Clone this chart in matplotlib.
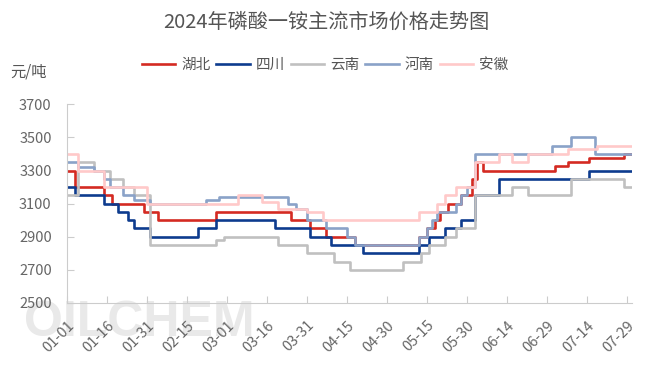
import matplotlib
matplotlib.use('Agg')
import matplotlib.pyplot as plt
import matplotlib.dates as mdates
import pandas as pd

plt.rcParams['font.family'] = ['Noto Sans CJK SC', 'DejaVu Sans']

# 价格变动点 (日期, 元/吨)
hubei_dates = ['2024-01-01', '2024-01-04', '2024-01-15', '2024-01-18', '2024-01-30', '2024-02-04',
               '2024-02-26', '2024-03-25', '2024-04-01', '2024-04-07', '2024-04-18', '2024-05-12',
               '2024-05-15', '2024-05-18', '2024-05-20', '2024-05-23', '2024-05-28', '2024-06-01',
               '2024-06-03', '2024-06-05', '2024-07-02', '2024-07-07', '2024-07-15', '2024-07-28',
               '2024-07-31']
hubei_vals = [3300, 3200, 3150, 3100, 3050, 3000,
              3050, 3000, 2950, 2900, 2850, 2900,
              2950, 3000, 3050, 3100, 3150, 3250,
              3350, 3300, 3330, 3350, 3375, 3400,
              3400]

sichuan_dates = ['2024-01-01', '2024-01-04', '2024-01-15', '2024-01-20', '2024-01-24', '2024-01-26',
                 '2024-02-01', '2024-02-19', '2024-02-26', '2024-03-19', '2024-04-01', '2024-04-09',
                 '2024-04-21', '2024-05-12', '2024-05-16', '2024-05-22', '2024-05-28', '2024-06-02',
                 '2024-06-11', '2024-07-15', '2024-07-31']
sichuan_vals = [3200, 3150, 3100, 3050, 3000, 2950,
                2900, 2950, 3000, 2950, 2900, 2850,
                2800, 2850, 2900, 2950, 3000, 3150,
                3250, 3300, 3300]

yunnan_dates = ['2024-01-01', '2024-01-05', '2024-01-11', '2024-01-17', '2024-01-22', '2024-01-26',
                '2024-02-01', '2024-02-26', '2024-02-29', '2024-03-20', '2024-03-31', '2024-04-10',
                '2024-04-16', '2024-05-06', '2024-05-13', '2024-05-16', '2024-05-22', '2024-05-26',
                '2024-06-02', '2024-06-16', '2024-06-22', '2024-07-08', '2024-07-28', '2024-07-31']
yunnan_vals = [3150, 3350, 3300, 3250, 3200, 3150,
               2850, 2880, 2900, 2850, 2800, 2750,
               2700, 2750, 2800, 2850, 2900, 2950,
               3150, 3200, 3150, 3250, 3200, 3200]

henan_dates = ['2024-01-01', '2024-01-05', '2024-01-11', '2024-01-15', '2024-01-17', '2024-01-22',
               '2024-01-26', '2024-02-01', '2024-02-22', '2024-02-27', '2024-03-24', '2024-03-27',
               '2024-03-31', '2024-04-07', '2024-04-15', '2024-04-18', '2024-05-12', '2024-05-15',
               '2024-05-17', '2024-05-19', '2024-05-26', '2024-05-28', '2024-05-30', '2024-06-02',
               '2024-07-01', '2024-07-08', '2024-07-17', '2024-07-31']
henan_vals = [3350, 3320, 3300, 3250, 3200, 3150,
              3125, 3100, 3120, 3140, 3100, 3070,
              3000, 2950, 2900, 2850, 2900, 2950,
              3000, 3050, 3100, 3150, 3200, 3400,
              3450, 3500, 3400, 3400]

anhui_dates = ['2024-01-01', '2024-01-05', '2024-01-15', '2024-01-31', '2024-03-05', '2024-03-14',
               '2024-03-20', '2024-03-31', '2024-04-06', '2024-05-12', '2024-05-19', '2024-05-22',
               '2024-05-26', '2024-06-02', '2024-06-11', '2024-06-16', '2024-06-22', '2024-07-07',
               '2024-07-18', '2024-07-31']
anhui_vals = [3400, 3300, 3200, 3100, 3150, 3110,
              3065, 3050, 3000, 3050, 3100, 3150,
              3200, 3350, 3400, 3350, 3400, 3430,
              3450, 3450]

series = [
    ('湖北', hubei_dates, hubei_vals, '#d42a22'),
    ('四川', sichuan_dates, sichuan_vals, '#0d3b8e'),
    ('云南', yunnan_dates, yunnan_vals, '#c0c0c0'),
    ('河南', henan_dates, henan_vals, '#8aa2c8'),
    ('安徽', anhui_dates, anhui_vals, '#ffc9c9'),
]

W, H = 652, 369
fig = plt.figure(figsize=(W / 100, H / 100), dpi=100)
ax = fig.add_axes([67 / W, 1 - 303 / H, (632 - 67) / W, (303 - 104.3) / H])

# 水印 (画在最底层)
fig.text(24 / W, 1 - 300 / H, 'OILCHEM', fontsize=36, fontweight='bold',
         family='Liberation Sans', color='#e9e9e9', va='top', ha='left', zorder=-1)

for name, d, v, c in series:
    ax.step(pd.to_datetime(d), v, where='post', color=c, lw=1.9, label=name)

ax.set_xlim(pd.Timestamp('2024-01-01'), pd.Timestamp('2024-07-31'))
ax.set_ylim(2500, 3700)
ax.set_yticks(range(2500, 3701, 200))
ax.set_xticks(pd.date_range('2024-01-01', '2024-07-31', freq='15D'))
ax.xaxis.set_major_formatter(mdates.DateFormatter('%m-%d'))

for s in ['top', 'right']:
    ax.spines[s].set_visible(False)
for s in ['left', 'bottom']:
    ax.spines[s].set_color('#cccccc')
ax.patch.set_alpha(0)
ax.tick_params(direction='in', length=5, color='#cccccc', labelcolor='#666666', labelsize=10.5)
ax.tick_params(axis='y', pad=11)
ax.tick_params(axis='x', pad=11)
plt.setp(ax.get_xticklabels(), rotation=45, ha='right', rotation_mode='anchor')

fig.text(0.5, 1 - 22 / H, '2024年磷酸一铵主流市场价格走势图', fontsize=14.5, color='#555555',
         ha='center', va='center')
fig.text(10 / W, 1 - 72 / H, '元/吨', fontsize=11, color='#555555', ha='left', va='center')

fig.legend(loc='center', bbox_to_anchor=(325 / W, 1 - 65 / H), ncol=5, frameon=False,
           fontsize=10.5, handlelength=2.3, handletextpad=0.4, columnspacing=0.4,
           labelcolor='#555555')

fig.savefig('out.png', dpi=100)
